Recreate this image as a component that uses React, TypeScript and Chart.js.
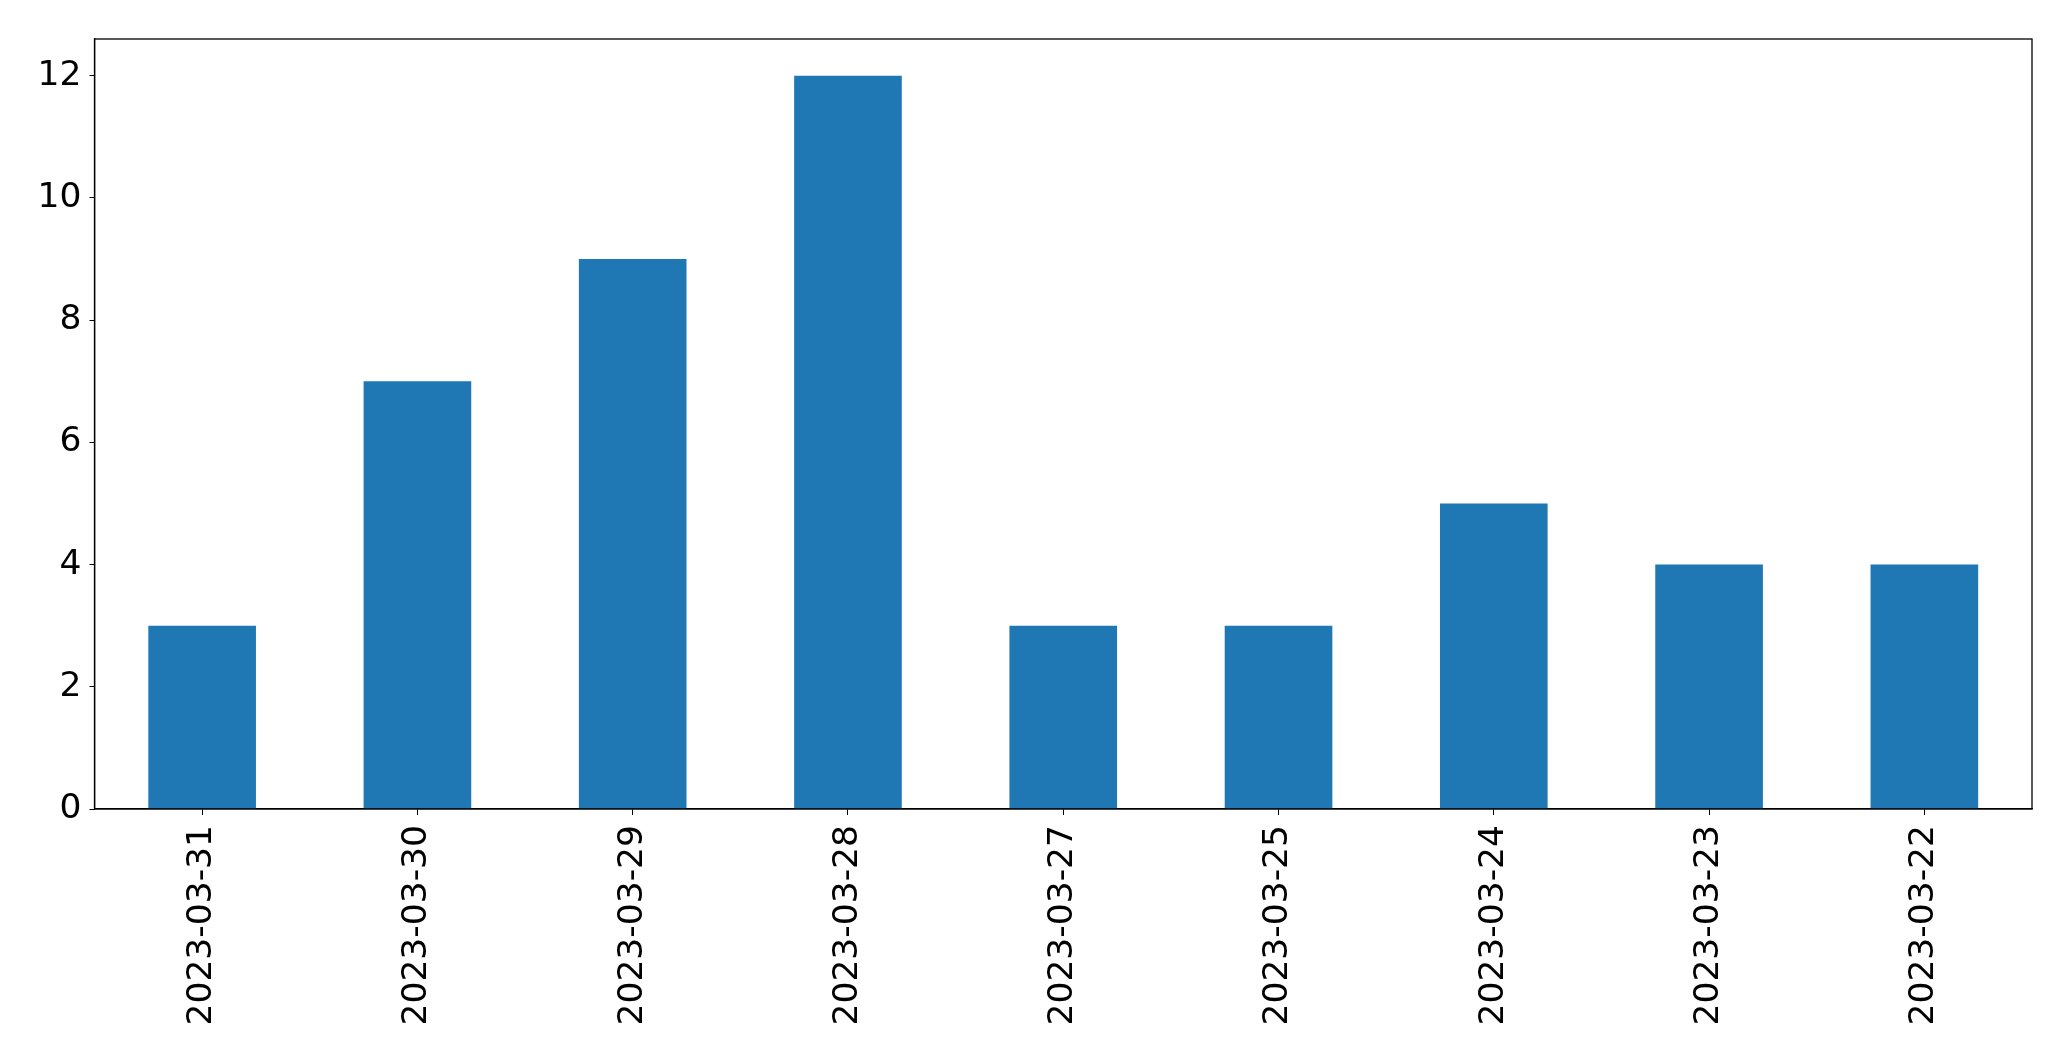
import React, { useEffect, useRef } from "react";
import { Chart, registerables } from "chart.js";

Chart.register(...registerables);

const categories = [
  "2023-03-31",
  "2023-03-30",
  "2023-03-29",
  "2023-03-28",
  "2023-03-27",
  "2023-03-25",
  "2023-03-24",
  "2023-03-23",
  "2023-03-22",
];
const counts = [3, 7, 9, 12, 3, 3, 5, 4, 4];
const yTickStep = 2;
const yMax = 12.6;

const frame = {
  id: "frame",
  afterDraw(chart: any) {
    const { ctx, chartArea } = chart;
    ctx.save();
    ctx.strokeStyle = "#000";
    ctx.lineWidth = 1.3;
    ctx.strokeRect(chartArea.left, chartArea.top, chartArea.right - chartArea.left, chartArea.bottom - chartArea.top);
    ctx.restore();
  },
};

export default function App() {
  const ref = useRef<HTMLCanvasElement | null>(null);
  useEffect(() => {
    document.body.style.margin = "0";
    const font = { family: "DejaVu Sans", size: 34.5 };
    const chart = new Chart(ref.current as HTMLCanvasElement, {
      type: "bar",
      data: {
        labels: categories,
        datasets: [
          {
            data: counts,
            backgroundColor: "#1f77b4",
            barPercentage: 0.5,
            categoryPercentage: 1,
          },
        ],
      },
      options: {
        animation: false,
        responsive: false,
        devicePixelRatio: 1,
        layout: { padding: { top: 39, right: 39, left: 0, bottom: 0 } },
        plugins: { legend: { display: false }, tooltip: { enabled: false } },
        scales: {
          x: {
            offset: true,
            grid: { drawOnChartArea: false, drawTicks: true, tickLength: 6, color: "#000", offset: false },
            border: { display: true, color: "#000", width: 1.3 },
            ticks: { color: "#000", font, minRotation: 90, maxRotation: 90, padding: 10, autoSkip: false },
            afterFit: (s: any) => {
              s.height = 252;
            },
          },
          y: {
            min: 0,
            max: yMax,
            grid: { drawOnChartArea: false, drawTicks: true, tickLength: 5, color: "#000" },
            border: { display: true, color: "#000", width: 1.3 },
            ticks: { color: "#000", font, stepSize: yTickStep, includeBounds: false, padding: 8 },
            afterFit: (s: any) => {
              s.width = 94.5;
            },
          },
        },
      },
      plugins: [frame],
    });
    return () => chart.destroy();
  }, []);
  return <canvas ref={ref} width={2071} height={1061} style={{ display: "block" }} />;
}
